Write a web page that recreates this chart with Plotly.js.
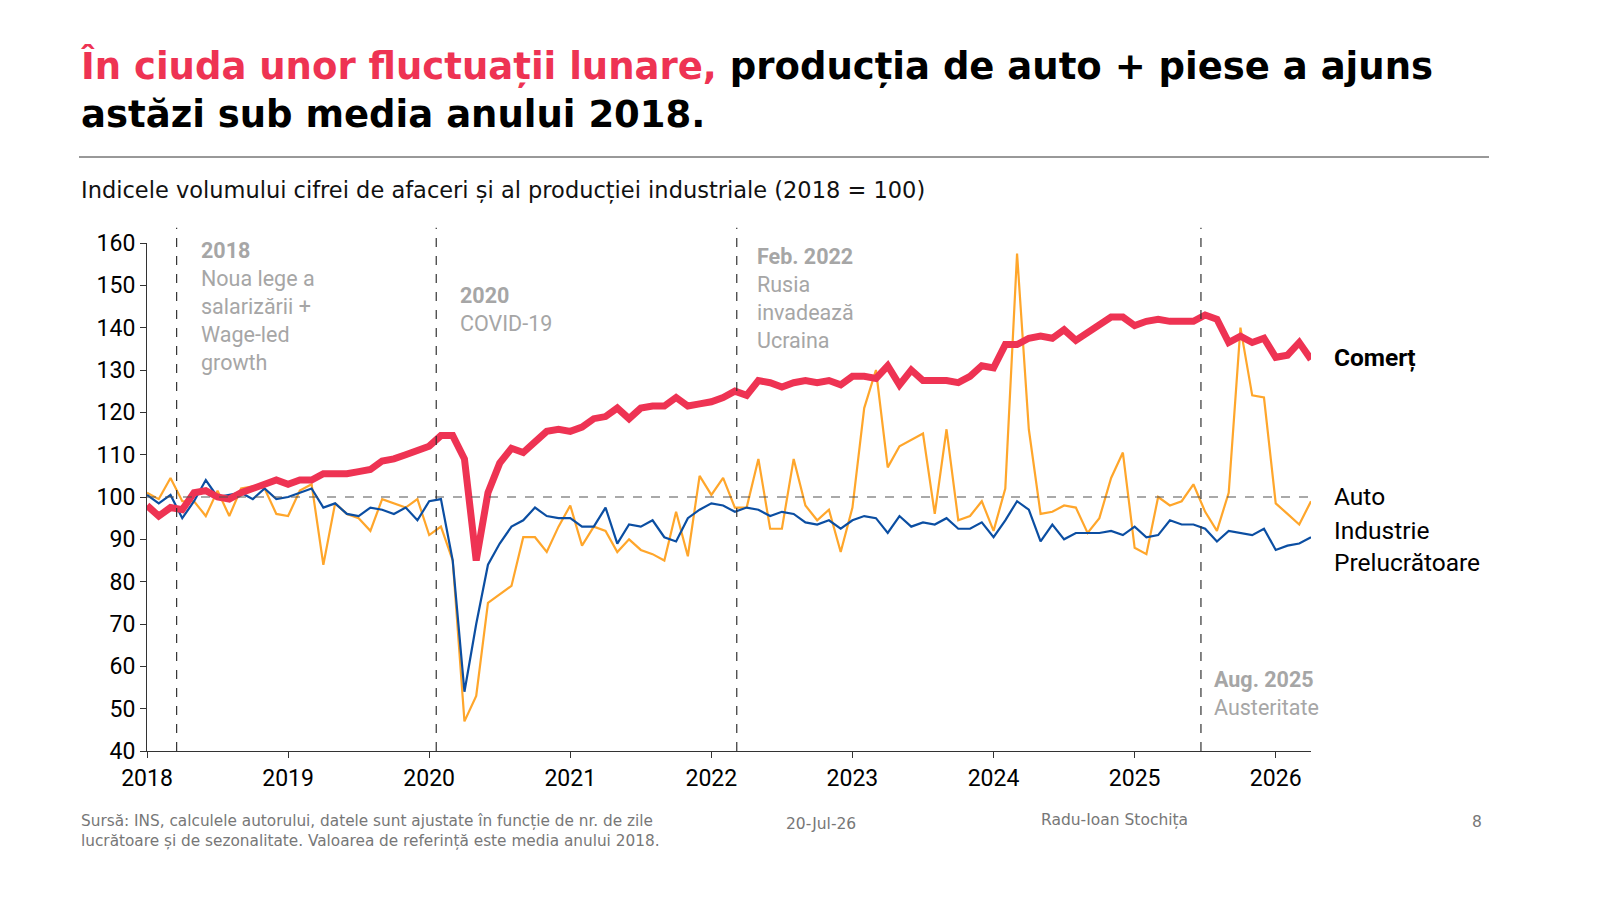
<!DOCTYPE html>
<html><head><meta charset="utf-8">
<script src="https://cdn.plot.ly/plotly-3.0.1.min.js"></script>
<style>body{margin:0;background:#fff}#c{width:1600px;height:900px}</style></head>
<body><div id="c"></div>
<script>
const startYear = 2018;
const comert = [98,95.5,97.5,97,101,101.5,100,99.5,101,102,103,104,
103,104,104,105.5,105.5,105.5,106,106.5,108.5,109,110,111,
112,114.5,114.5,109,85,101,108,111.5,110.5,113,115.5,116,
115.5,116.5,118.5,119,121,118.5,121,121.5,121.5,123.5,121.5,122,
122.5,123.5,125,124,127.5,127,126,127,127.5,127,127.5,126.5,
128.5,128.5,128,131,126.5,130,127.5,127.5,127.5,127,128.5,131,
130.5,136,136,137.5,138,137.5,139.5,137,139,141,142.5,142.5,
140.5,141.5,142,141.5,141.5,141.5,143,142,136.5,138,136.5,137.5,
133,133.5,136.5,132.5];
const auto = [101,99.5,104.5,99,99,95.5,101.5,95.5,102,102.5,102,96,
95.5,101.5,103,84,98.5,96,95,92,99.5,98.5,97.5,99.5,
91,93,85,47,53,75,77,79,90.5,90.5,87,93,
98,88.5,93,92,87,90,87.5,86.5,85,96.5,86,105,
100.5,104.5,97.5,97.5,109,92.5,92.5,109,98,94.5,97,87,
97.5,121,130,107,112,113.5,115,96,116,94.5,95.5,99,
92,102,157.5,116,96,96.5,98,97.5,91.5,95,104.5,110.5,
88,86.5,100,98,99,103,96.5,92,101,140,124,123.5,
98.5,96,93.5,99];
const industrie = [100.5,98.5,100.5,95,99,104,100,100.5,101,99.5,102,99.5,
100,101,102,97.5,98.5,96,95.5,97.5,97,96,97.5,94.5,
99,99.5,85,54,70,84,89,93,94.5,97.5,95.5,95,
95,93,93,97.5,89,93.5,93,94.5,90.5,89.5,95,97,
98.5,98,96.5,97.5,97,95.5,96.5,96,94,93.5,94.5,92.5,
94.5,95.5,95,91.5,95.5,93,94,93.5,95,92.5,92.5,94,
90.5,94.5,99,97,89.5,93.5,90,91.5,91.5,91.5,92,91,
93,90.5,91,94.5,93.5,93.5,92.5,89.5,92,91.5,91,92.5,
87.5,88.5,89,90.5];
const tickYears = [2018,2019,2020,2021,2022,2023,2024,2025,2026];
const events = [
  {x:2018.21, head:"2018", body:"Noua lege a<br>salarizării +<br>Wage-led<br>growth", tx:199, ty:236},
  {x:2020.05, head:"2020", body:"COVID-19", tx:458, ty:281},
  {x:2022.18, head:"Feb. 2022", body:"Rusia<br>invadează<br>Ucraina", tx:755, ty:242},
  {x:2025.47, head:"Aug. 2025", body:"Austeritate", tx:1212, ty:665}
];
const xs = comert.map((_, i) => startYear + i / 12);

const L=147,R=1311,T=243,B=751;
const px = p => (p-L)/(R-L), py = p => (B-p)/(B-T);
const F = "'DejaVu Sans', sans-serif";
const F2 = "Roboto, sans-serif";

const traces = [
 {x:xs,y:auto,mode:'lines',line:{color:'#FFA62B',width:2.2},hoverinfo:'skip'},
 {x:xs,y:industrie,mode:'lines',line:{color:'#0B4EA2',width:2.2},hoverinfo:'skip'},
 {x:xs,y:comert,mode:'lines',line:{color:'#EE3353',width:7},hoverinfo:'skip'}
];
const shapes = [
 {type:'line',xref:'x',yref:'y',x0:2018,x1:2026.25,y0:100,y1:100,line:{color:'#555',width:1.2,dash:'dash'}},
 {type:'line',xref:'paper',yref:'paper',x0:px(79),x1:px(1489),y0:py(157),y1:py(157),line:{color:'#333',width:1}}
];
events.forEach(e=>shapes.push({type:'line',xref:'x',yref:'paper',x0:e.x,x1:e.x,y0:0,y1:1.03,line:{color:'#333',width:1.2,dash:'dash'}}));
const ann = [];
const A=(x,y,text,size,color,extra,fam)=>ann.push(Object.assign({xref:'paper',yref:'paper',x:px(x),y:py(y),text,showarrow:false,xanchor:'left',yanchor:'top',align:'left',font:{family:fam||F,size,color}},extra||{}));
A(79,42,"<b><span style='color:#EE3353'>În ciuda unor fluctuații lunare,</span> producția de auto + piese a ajuns<br>astăzi sub media anului 2018.</b>",37,'#000');
A(79,175,"Indicele volumului cifrei de afaceri și al producției industriale (2018 = 100)",22.5,'#111');
events.forEach(e=>A(e.tx,e.ty,"<b>"+e.head+"</b><br>"+e.body,21.5,'#a6a6a6',null,F2));
A(1332,341,"<b>Comerț</b>",24.5,'#000',null,F2);
A(1332,480,"Auto",24.5,'#000',null,F2);
A(1332,514,"Industrie<br>Prelucrătoare",24.5,'#000',null,F2);
A(79,810,"Sursă: INS, calculele autorului, datele sunt ajustate în funcție de nr. de zile<br>lucrătoare și de sezonalitate. Valoarea de referință este media anului 2018.",15.3,'#777');
A(784,813,"20-Jul-26",15.5,'#777');
A(1039,809,"Radu-Ioan Stochița",15.5,'#777');
A(1484,811,"8",15.5,'#777',{xanchor:'right'});

Plotly.newPlot('c',traces,{
 width:1600,height:900,showlegend:false,paper_bgcolor:'#fff',plot_bgcolor:'#fff',
 margin:{l:L,r:1600-R,t:T,b:900-B,pad:0},
 xaxis:{range:[2018,2026.25],tickvals:tickYears,ticktext:tickYears.map(String),showgrid:false,zeroline:false,
   showline:true,linecolor:'#333',ticks:'outside',ticklen:6,tickcolor:'#333',tickfont:{family:F2,size:23,color:'#000'}},
 yaxis:{range:[40,160],dtick:10,showgrid:false,zeroline:false,showline:true,linecolor:'#333',ticks:'outside',ticklen:6,tickcolor:'#333',
   tickfont:{family:F2,size:23,color:'#000'}},
 shapes,annotations:ann,font:{family:F}
},{staticPlot:true});
</script></body></html>
